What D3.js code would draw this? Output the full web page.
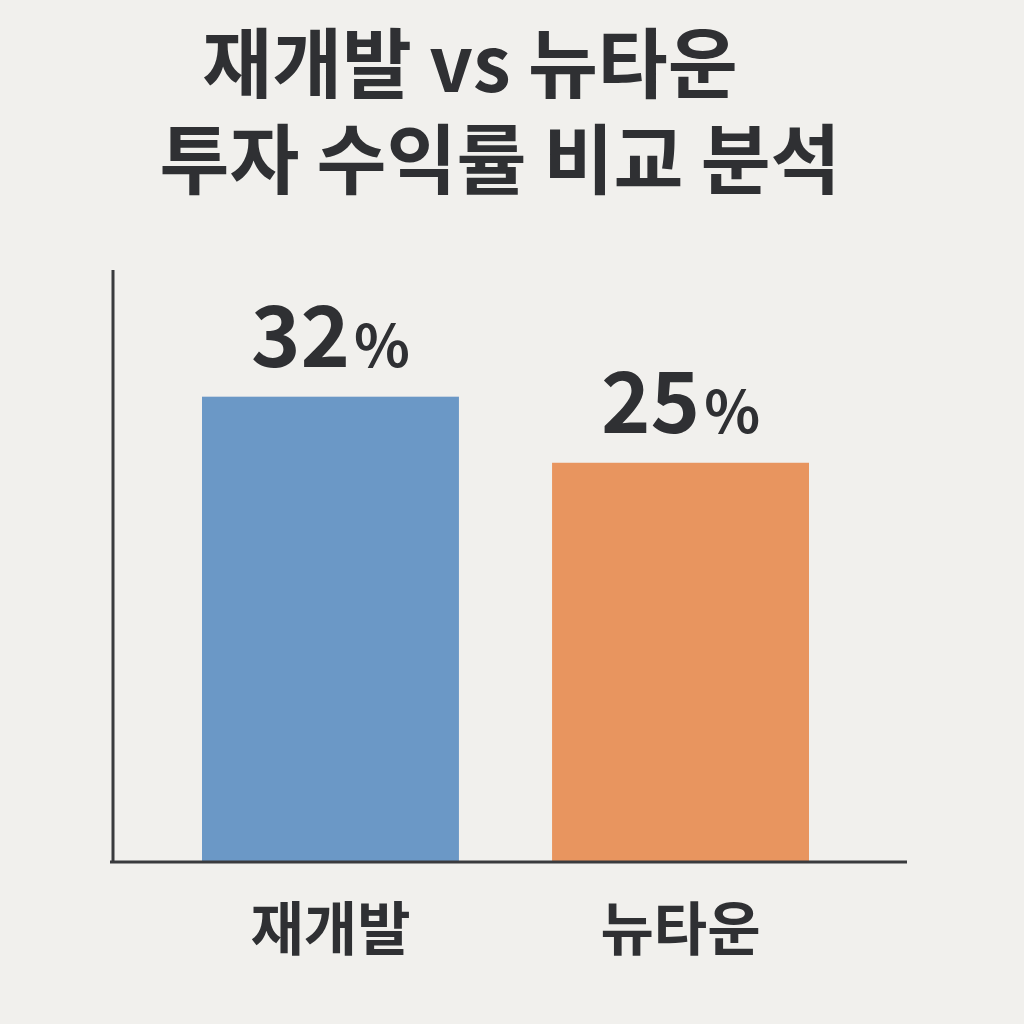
<!DOCTYPE html>
<html><head><meta charset="utf-8">
<script src="https://cdn.jsdelivr.net/npm/d3@7"></script>
<style>body{margin:0;background:#f1f0ed}</style>
</head><body><div id="chart"></div>
<script>
var categories = ["재개발", "뉴타운"];
var values = [32, 25];
var colors = ["#6b98c6", "#e8955f"];
var titleLines = ["재개발 vs 뉴타운", "투자 수익률 비교 분석"];

var font = "'Noto Sans CJK KR', 'Noto Sans', sans-serif";
var svg = d3.select("#chart").append("svg").attr("width", 1024).attr("height", 1024);
svg.append("rect").attr("width", 1024).attr("height", 1024).attr("fill", "#f1f0ed");

// title
svg.selectAll("text.title").data(titleLines).enter().append("text")
	.attr("class", "title")
	.attr("x", function(d, i){ return i === 0 ? 470 : 500; })
	.attr("y", function(d, i){ return 92 + i * 96; })
	.attr("text-anchor", "middle")
	.style("font-family", font).style("font-weight", 700).style("font-size", "76px")
	.attr("fill", "#2f3033")
	.text(function(d){ return d; });

var x = d3.scaleBand().domain(categories).range([202, 809]).paddingInner(0.266).paddingOuter(0);
// scale fitted to the reference bar heights
var y = d3.scaleLinear().domain([-17.3, 45]).range([862, 274]);

svg.selectAll("rect.bar").data(values).enter().append("rect")
	.attr("class", "bar")
	.attr("x", function(d, i){ return x(categories[i]); })
	.attr("width", x.bandwidth())
	.attr("y", function(d){ return y(d); })
	.attr("height", function(d){ return 862 - y(d); })
	.attr("fill", function(d, i){ return colors[i]; });

var lbl = svg.selectAll("text.val").data(values).enter().append("text")
	.attr("class", "val")
	.attr("x", function(d, i){ return x(categories[i]) + x.bandwidth() / 2; })
	.attr("y", function(d){ return y(d) - 30; })
	.attr("text-anchor", "middle")
	.style("font-family", font).style("font-weight", 700).style("font-size", "84px")
	.attr("fill", "#2f3033");
lbl.append("tspan").text(function(d){ return d; });
lbl.append("tspan").style("font-size", "58px").attr("dx", 4).text("%");

// axes
svg.append("line").attr("x1", 113).attr("x2", 113).attr("y1", 270).attr("y2", 863)
	.attr("stroke", "#3a3b3e").attr("stroke-width", 3);
svg.append("line").attr("x1", 110).attr("x2", 907).attr("y1", 862).attr("y2", 862)
	.attr("stroke", "#3a3b3e").attr("stroke-width", 3);

svg.selectAll("text.cat").data(categories).enter().append("text")
	.attr("class", "cat")
	.attr("x", function(d){ return x(d) + x.bandwidth() / 2; })
	.attr("y", 950)
	.attr("text-anchor", "middle")
	.style("font-family", font).style("font-weight", 700).style("font-size", "58px")
	.attr("fill", "#2f3033")
	.text(function(d){ return d; });
</script></body></html>
